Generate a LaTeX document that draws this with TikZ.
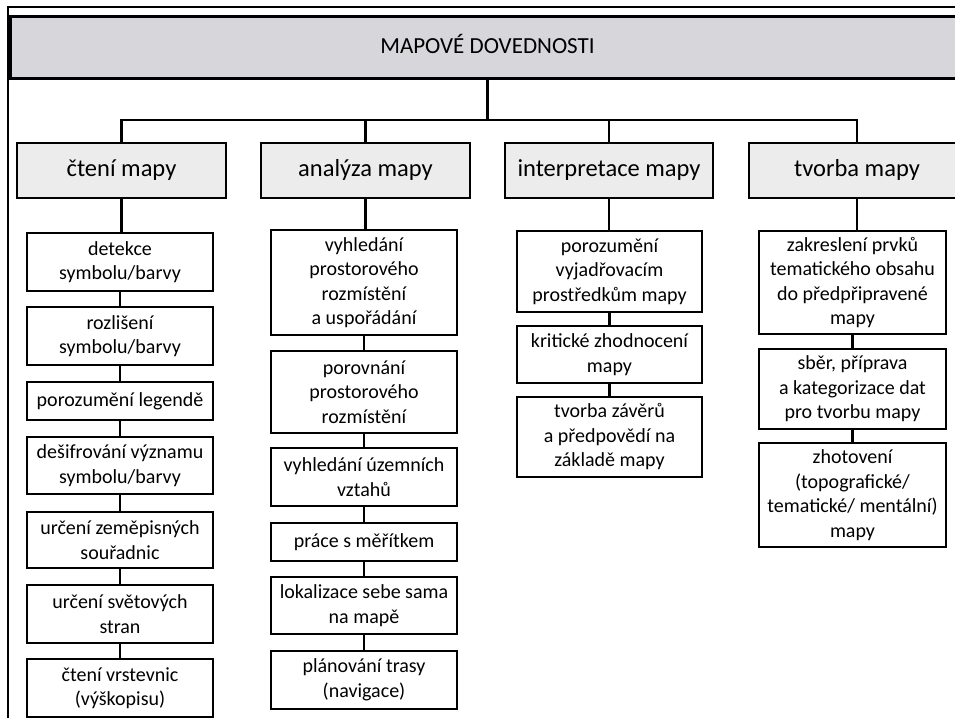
\documentclass[tikz,border=0pt]{standalone}
\usepackage{fontspec}
\setmainfont{Carlito}
\definecolor{titlefill}{HTML}{D6D6DB}
\definecolor{headfill}{HTML}{ECECEC}
\tikzset{
  titlebox/.style={draw, line width=3pt, fill=titlefill, inner sep=0pt, align=center,
    text height=16pt, text depth=4pt, font=\fontsize{23}{27}\selectfont},
  headbox/.style={draw, line width=2.2pt, fill=headfill, inner sep=0pt, align=center,
    text height=17pt, text depth=5pt,
    minimum height=55, font=\fontsize{24.5}{28}\selectfont},
  leaf/.style={draw, line width=1.7pt, fill=white, inner sep=0pt, align=center,
    font=\fontsize{20}{24.5}\selectfont},
  link/.style={line width=2.4pt},
  frame/.style={line width=1.5pt}
}
\begin{document}
\begin{tikzpicture}[x=1pt,y=-1pt]
\path[use as bounding box] (0,0) rectangle (955,718);
\clip (0,0) rectangle (955,718);
\fill[white] (0,0) rectangle (955,718);
\draw[frame] (8,718) -- (8,7) -- (960,7);

\node[titlebox, minimum width=955, minimum height=62] (title) at (487.5,47) {MAPOVÉ DOVEDNOSTI};
\coordinate (bar) at (0,120);

\node[headbox, minimum width=209] (h1) at (121.5,170.5) {čtení mapy};
\node[headbox, minimum width=209] (h2) at (365.5,170.5) {analýza mapy};
\node[headbox, minimum width=208] (h3) at (609,170.5) {interpretace mapy};
\node[headbox, minimum width=216] (h4) at (857,170.5) {tvorba mapy};

% column 1
\node[leaf, minimum width=186, minimum height=58] (a1) at (120,262) {detekce\\symbolu/barvy};
\node[leaf, minimum width=186, minimum height=58] (a2) at (120,336) {rozlišení\\symbolu/barvy};
\node[leaf, minimum width=186, minimum height=38] (a3) at (120,401) {porozumění legendě};
\node[leaf, minimum width=186, minimum height=57] (a4) at (120,465.5) {dešifrování významu\\symbolu/barvy};
\node[leaf, minimum width=186, minimum height=56] (a5) at (120,540) {určení zeměpisných\\souřadnic};
\node[leaf, minimum width=186, minimum height=58] (a6) at (120,614) {určení světových\\stran};
\node[leaf, minimum width=186, minimum height=58] (a7) at (120,688) {čtení vrstevnic\\(výškopisu)};

% column 2
\node[leaf, minimum width=186, minimum height=105] (b1) at (364,282.5) {vyhledání\\prostorového\\rozmístění\\a uspořádání};
\node[leaf, minimum width=186, minimum height=82] (b2) at (364,392) {porovnání\\prostorového\\rozmístění};
\node[leaf, minimum width=186, minimum height=58] (b3) at (364,477) {vyhledání územních\\vztahů};
\node[leaf, minimum width=186, minimum height=38] (b4) at (364,542) {práce s měřítkem};
\node[leaf, minimum width=186, minimum height=57] (b5) at (364,605.5) {lokalizace sebe sama\\na mapě};
\node[leaf, minimum width=186, minimum height=58] (b6) at (364,680) {plánování trasy\\(navigace)};

% column 3
\node[leaf, minimum width=185, minimum height=81] (c1) at (609.5,271.5) {porozumění\\vyjadřovacím\\prostředkům mapy};
\node[leaf, minimum width=185, minimum height=57] (c2) at (609.5,354.5) {kritické zhodnocení\\mapy};
\node[leaf, minimum width=185, minimum height=80] (c3) at (609.5,437) {tvorba závěrů\\a předpovědí na\\základě mapy};

% column 4
\node[leaf, minimum width=187, minimum height=103] (d1) at (852.5,282.5) {zakreslení prvků\\tematického obsahu\\do předpřipravené\\mapy};
\node[leaf, minimum width=187, minimum height=80] (d2) at (852.5,389) {sběr, příprava\\a kategorizace dat\\pro tvorbu mapy};
\node[leaf, minimum width=187, minimum height=104] (d3) at (852.5,495) {zhotovení\\(topografické/\\tematické/ mentální)\\mapy};

% connectors
\draw[link] (title.south) -- (title.south |- bar);
\draw[link] (h1.north) -- (h1.north |- bar) -- (h4.north |- bar) -- (h4.north);
\draw[link] (h2.north) -- (h2.north |- bar);
\draw[link] (h3.north) -- (h3.north |- bar);

\draw[link] (h1.south) -- (h1.south |- a1.north);
\draw[link] (h2.south) -- (h2.south |- b1.north);
\draw[link] (h3.south) -- (h3.south |- c1.north);
\draw[link] (h4.south) -- (h4.south |- d1.north);

\foreach \u/\v in {a1/a2,a2/a3,a3/a4,a4/a5,a5/a6,a6/a7,
                   b1/b2,b2/b3,b3/b4,b4/b5,b5/b6,
                   c1/c2,c2/c3,d1/d2,d2/d3}
  \draw[link] (\u.south) -- (\v.north);
\end{tikzpicture}
\end{document}
